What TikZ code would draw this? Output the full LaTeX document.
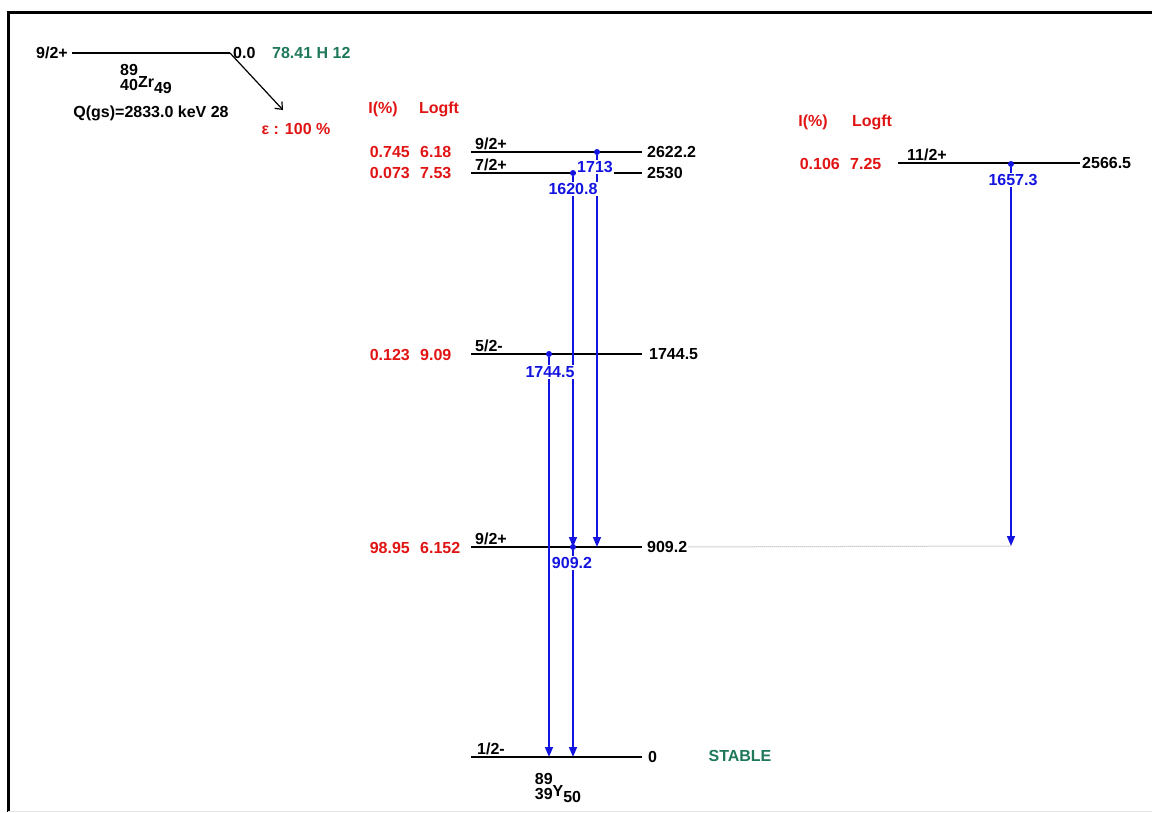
\documentclass[tikz,border=0pt]{standalone}
\usepackage{fontspec}
\setmainfont{Liberation Sans}
\usepackage{xcolor}
\usetikzlibrary{arrows.meta,positioning}
\definecolor{lvlred}{RGB}{225,20,20}
\definecolor{gamblue}{RGB}{20,20,225}
\definecolor{halfgreen}{RGB}{30,120,90}
\newcommand{\nucl}[4]{\begin{tabular}{@{}r@{}}#1\\[-2pt]#2\end{tabular}\raisebox{-3pt}{#3}\raisebox{-9.5pt}{#4}}

\begin{document}
\begin{tikzpicture}[x=1pt,y=-1pt,
		every node/.style={
			font=\fontsize{16}{17}\selectfont\bfseries,
			inner sep=1pt
		},
		level/.style={line width=1.8pt},
		gamma/.style={draw=gamblue,line width=1.6pt,-{Triangle[length=10pt,width=8pt]}},
		gdot/.style={circle,fill=gamblue,inner sep=0pt,minimum size=6pt},
		glab/.style={text=gamblue,fill=white},
		inten/.style={text=lvlred}
		]
		
		\useasboundingbox (0,0) rectangle (1152,812);
		\draw[line width=3pt] (8,812) -- (8,12) -- (1152,12);
		\draw[black!10,line width=1pt] (8,811) -- (1152,811);
		
		% parent
		\coordinate (pa) at (72,53);
		\coordinate (pb) at (230,53);
		\draw[level] (pa) -- (pb);
		\node[left=3pt of pa] (pjp) {9/2+};
		\node[right=2pt of pb] (pe) {0.0};
		\node[anchor=west,text=halfgreen] (thalf) at (271,53) {78.41 H 12};
		\node (zr) at (146,80) {\nucl{89}{40}{Zr}{49}};
		\node (qgs) at (151,113) {Q(gs)=2833.0 keV 28};
		\coordinate (ec) at (283,110);
		\draw[line width=1.2pt,-{Straight Barb[length=6pt,width=10pt]}] (pb) -- (ec);
		\node[inten] (ecp) at (296,129) {ε : 100 \%};
		
		% headers
		\node[inten] (hi1) at (383,109) {I(\%)};
		\node[inten] (hf1) at (439,109) {Logft};
		\node[inten] (hi2) at (813,122) {I(\%)};
		\node[inten] (hf2) at (872,122) {Logft};
		
		% levels
		\coordinate (l2622a) at (471,152);
		\coordinate (l2622b) at (642,152);
		\coordinate (l2530a) at (471,173);
		\coordinate (l2530b) at (642,173);
		\coordinate (l1744a) at (471,354);
		\coordinate (l1744b) at (642,354);
		\coordinate (l909a) at (471,547);
		\coordinate (l909b) at (642,547);
		\coordinate (l0a) at (471,757);
		\coordinate (l0b) at (642,757);
		\coordinate (r2566a) at (898,163);
		\coordinate (r2566b) at (1080,163);
		
		\draw[level] (l2622a) -- (l2622b);
		\draw[level] (l2530a) -- (l2530b);
		\draw[level] (l1744a) -- (l1744b);
		\draw[level] (l909a) -- (l909b);
		\draw[level] (l0a) -- (l0b);
		\draw[level] (r2566a) -- (r2566b);
		
		\node[above right=1pt and 3pt of l2622a] (j2622) {9/2+};
		\node[above right=1pt and 3pt of l2530a] (j2530) {7/2+};
		\node[above right=1pt and 3pt of l1744a] (j1744) {5/2-};
		\node[above right=1pt and 3pt of l909a] (j909) {9/2+};
		\node[above right=1pt and 5pt of l0a] (j0) {1/2-};
		\node[above right=1pt and 8pt of r2566a] (j2566) {11/2+};
		
		\node[right=4pt of l2622b] (e2622) {2622.2};
		\node[right=4pt of l2530b] (e2530) {2530};
		\node[right=6pt of l1744b] (e1744) {1744.5};
		\node[right=4pt of l909b] (e909) {909.2};
		\node[right=5pt of l0b] (e0) {0};
		\node[right=1pt of r2566b] (e2566) {2566.5};
		\node[text=halfgreen] (stable) at (740,756) {STABLE};
		\node (ynuc) at (558,789) {\nucl{89}{39}{Y}{50}};
		
		\node[inten,anchor=east] (i2622) at (411,152) {0.745};
		\node[inten,anchor=west] (f2622) at (419,152) {6.18};
		\node[inten,anchor=east] (i2530) at (411,173) {0.073};
		\node[inten,anchor=west] (f2530) at (419,173) {7.53};
		\node[inten,anchor=east] (i1744) at (411,355) {0.123};
		\node[inten,anchor=west] (f1744) at (419,355) {9.09};
		\node[inten,anchor=east] (i909) at (411,548) {98.95};
		\node[inten,anchor=west] (f909) at (419,548) {6.152};
		\node[inten,anchor=east] (i2566) at (841,164) {0.106};
		\node[inten,anchor=west] (f2566) at (849,164) {7.25};
		
		% gammas
		\node[gdot] (d1713) at (597,152) {};
		\node[gdot] (d1620) at (573,173) {};
		\node[gdot] (d1744) at (549,354) {};
		\node[gdot] (d909) at (573,547) {};
		\node[gdot] (d1657) at (1011,164) {};
		\coordinate (rend) at (1011,546);
		
		\draw[gamma] (d1713) -- (d1713 |- l909a);
		\draw[gamma] (d1620) -- (d1620 |- l909a);
		\draw[gamma] (d1744) -- (d1744 |- l0a);
		\draw[gamma] (d909) -- (d909 |- l0a);
		\draw[gamma] (d1657) -- (rend);
		\draw[densely dotted,black!35,line width=1pt] (e909) -- (rend);
		
		\node[glab] (g1713) at (595,167) {1713};
		\node[glab] (g1620) at (573,189) {1620.8};
		\node[glab] (g1744) at (550,372) {1744.5};
		\node[glab] (g909) at (572,563) {909.2};
		\node[glab] (g1657) at (1013,180) {1657.3};
		
	\end{tikzpicture}
\end{document}
